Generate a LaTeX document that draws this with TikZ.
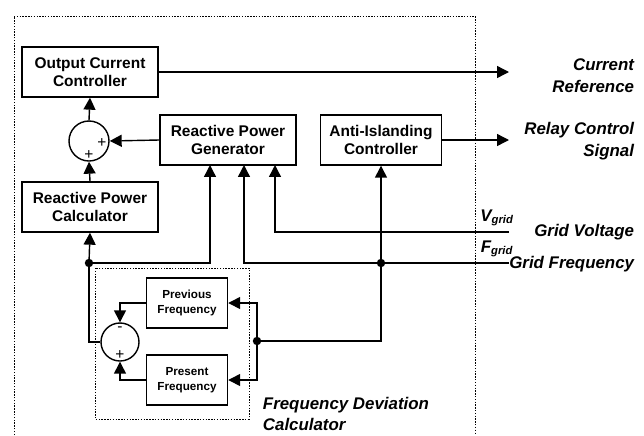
\documentclass[tikz,border=0pt]{standalone}
\usepackage{fontspec}
\setmainfont{Liberation Sans}
\usetikzlibrary{arrows.meta}
\tikzset{
  block/.style={draw, rectangle, line width=1pt, minimum width=3.4cm, minimum height=1.25cm, align=center, font=\fontsize{11}{13}\selectfont\bfseries},
  smallblock/.style={draw, rectangle, line width=1pt, minimum width=2.025cm, minimum height=1.25cm, align=center, font=\fontsize{8.3}{11}\selectfont\bfseries},
  sumnode/.style={draw, circle, line width=1pt, inner sep=0pt},
  arr/.style={line width=1pt, -{Triangle[length=8.5pt,width=8.5pt]}},
  wire/.style={line width=1pt},
  lab/.style={font=\fontsize{12}{15.5}\selectfont\bfseries\itshape, align=right, anchor=east},
  frame/.style={line width=0.6pt, dash pattern=on 1pt off 1pt},
  sign/.style={font=\fontsize{11}{11}\selectfont, inner sep=0pt}
}
\begin{document}
\begin{tikzpicture}[x=0.025cm, y=-0.025cm]
    \useasboundingbox (0,0) rectangle (644,435);
    \draw[frame] (14,435) -- (14,16) -- (475,16) -- (475,435);
    \draw[frame] (95,268) rectangle (249,419);

    \node[block] (occ) at (90,72) {Output Current\\Controller};
    \node[sumnode, minimum size=1cm] (sum1) at (89,141) {};
    \node[sign] at (102,143) {+};
    \node[sign] at (89,155) {+};
    \node[block] (rpg) at (228,140) {Reactive Power\\Generator};
    \node[block, minimum width=3.025cm] (aic) at (381,140) {Anti-Islanding\\Controller};
    \node[block] (rpc) at (90,207) {Reactive Power\\Calculator};
    \node[smallblock] (prev) at (187,303) {Previous\\Frequency};
    \node[smallblock] (pres) at (187,380) {Present\\Frequency};
    \node[sumnode, minimum size=0.95cm] (sum2) at (120,342) {};
    \node[sign] at (120,329) {-};
    \node[sign] at (120,355) {+};

    \coordinate (curref) at (509,72);
    \coordinate (relay) at (509,140);
    \coordinate (vgrid) at (509,232);
    \coordinate (fgrid) at (509,263);
    \coordinate (rpgin1) at (210,165);
    \coordinate (rpgin2) at (244,165);
    \coordinate (rpgin3) at (275,165);
    \coordinate (j1) at (89,263);
    \coordinate (j2) at (381,263);
    \coordinate (j3) at (257,341);

    \node[lab] (curlab) at (639,76) {Current\\Reference};
    \node[lab] (rellab) at (639,141) {Relay Control\\Signal};
    \node[lab] (vlab) at (639,232) {Grid Voltage};
    \node[lab] (flab) at (639,264) {Grid Frequency};
    \node[font=\fontsize{12}{14}\selectfont\bfseries\itshape] (vsym) at (497,218) {V\textsubscript{grid}};
    \node[font=\fontsize{12}{14}\selectfont\bfseries\itshape] (fsym) at (497,249) {F\textsubscript{grid}};
    \node[lab, align=left, anchor=west] (fdclab) at (258,414) {Frequency Deviation\\Calculator};

    \draw[arr] (occ.east |- curref) -- (curref);
    \draw[arr] (sum1.north) -- (occ.south);
    \draw[arr] (rpg.west) -- (sum1.east);
    \draw[arr] (rpc.north) -- (sum1.south);
    \draw[arr] (aic.east) -- (relay);
    \draw[arr] (j1) -- (rpc.south);
    \draw[arr] (j1) -| (rpgin1);
    \draw[arr] (fgrid) -| (rpgin2);
    \draw[arr] (vgrid) -| (rpgin3);
    \draw[arr] (j2) -- (aic.south);
    \draw[wire] (j2) |- (j3);
    \draw[arr] (j3) |- (prev.east);
    \draw[arr] (j3) |- (pres.east);
    \draw[arr] (prev.west) -| (sum2.north);
    \draw[arr] (pres.west) -| (sum2.south);
    \draw[wire] (sum2.west) -| (j1);
    \fill (j1) circle (3pt);
    \fill (j2) circle (3pt);
    \fill (j3) circle (3pt);
\end{tikzpicture}
\end{document}
